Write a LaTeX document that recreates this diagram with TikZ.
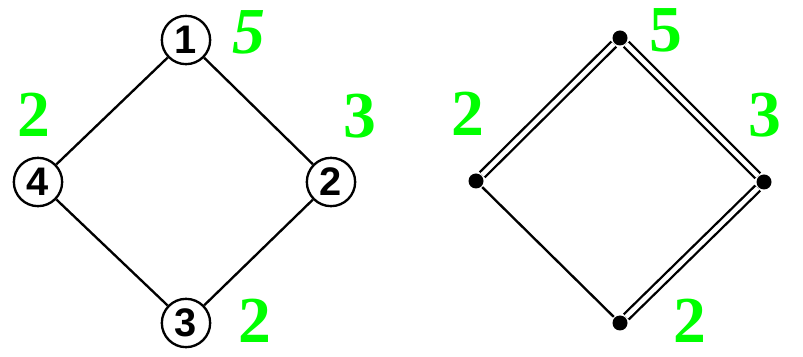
\documentclass[tikz,border=0pt]{standalone}
\usepackage{fontspec}
\setmainfont{Liberation Serif}
\newfontfamily\numfont{Liberation Sans}
\usetikzlibrary{positioning}

\begin{document}
\begin{tikzpicture}[line width=2pt,
 vx/.style={draw,circle,minimum size=1.45cm,inner sep=0pt,fill=white,font=\numfont\bfseries\fontsize{34}{34}\selectfont},
 pt/.style={circle,fill=black,minimum size=0.45cm,inner sep=0pt},
 wt/.style={text=green,font=\bfseries\fontsize{56}{56}\selectfont,inner sep=0pt},
 dbl/.style={double,double distance=0.14cm}]
\useasboundingbox (0,0) rectangle (24.09,10.71);
% left graph
\node[vx] (a1) at (5.58,9.51) {1};
\node[vx] (a4) at (1.14,5.25) {4};
\node[vx] (a2) at (9.93,5.25) {2};
\node[vx] (a3) at (5.58,1.02) {3};
\draw (a1) -- (a4);
\draw (a1) -- (a2);
\draw (a4) -- (a3);
\draw (a2) -- (a3);
\node[wt,font=\bfseries\itshape\fontsize{56}{56}\selectfont] (wa1) at (7.47,9.74) {5};
\node[wt] (wa4) at (1.02,7.26) {2};
\node[wt] (wa2) at (10.8,7.23) {3};
\node[wt] (wa3) at (7.65,1.08) {2};
% right graph
\node[pt] (b1) at (18.6,9.57) {};
\node[pt] (b4) at (14.28,5.28) {};
\node[pt] (b2) at (22.92,5.25) {};
\node[pt] (b3) at (18.6,1.02) {};
\draw[dbl] (b1) -- (b4);
\draw[dbl] (b1) -- (b2);
\draw[dbl] (b2) -- (b3);
\draw (b4) -- (b3);
\node[wt] (wb1) at (19.98,9.8) {5};
\node[wt] (wb4) at (14.04,7.29) {2};
\node[wt] (wb2) at (22.95,7.26) {3};
\node[wt] (wb3) at (20.7,1.08) {2};
\end{tikzpicture}
\end{document}
